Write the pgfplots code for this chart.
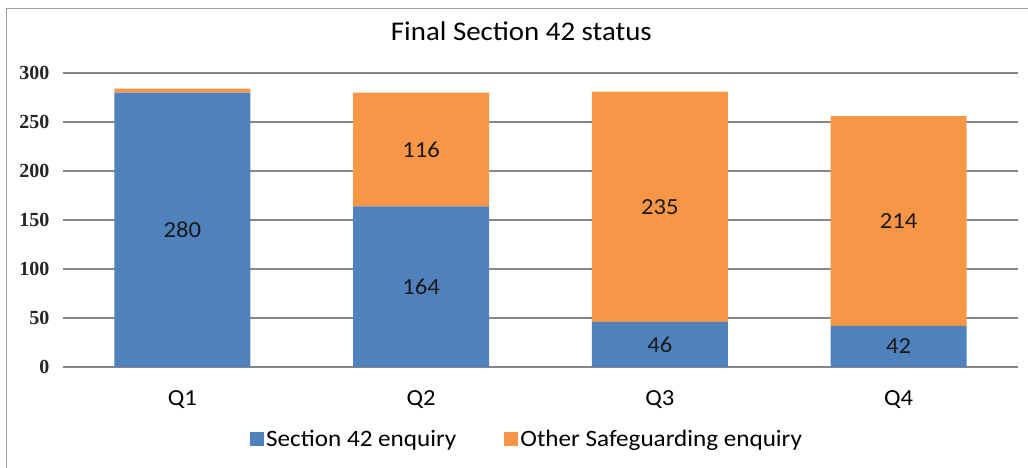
\documentclass[border=0pt]{standalone}
\usepackage{pgfplots}
\pgfplotsset{compat=1.18}
\usepackage{fontspec}
\setmainfont[FakeStretch=1.07]{Carlito}
\newfontfamily\tickfont{Liberation Serif}
\definecolor{sblue}{HTML}{4F81BD}
\definecolor{sorange}{HTML}{F79646}
\definecolor{gridc}{HTML}{868686}
\definecolor{framec}{HTML}{A0A0A0}
\pgfplotsset{
  common/.style={
    scale only axis, width=955pt, height=294pt,
    xmin=-0.5, xmax=3.5, ymin=0, ymax=300,
  }
}
\begin{document}
\begin{tikzpicture}[x=1pt,y=1pt]
\path[use as bounding box] (-63,-100) rectangle (965,367);
\draw[framec, line width=1pt] (-56,-101) -- (-56,359) -- (966,359);
\begin{axis}[
  common,
  ybar stacked, bar width=136pt,
  xtick={0,1,2,3}, xticklabels={Q1,Q2,Q3,Q4},
  ytick={0,50,...,300},
  ymajorgrids, grid style={gridc, line width=1.2pt},
  axis line style={draw=none},
  major tick length=0pt,
  xticklabel style={font=\fontsize{23}{27}\selectfont, yshift=-20pt},
  yticklabel style={font=\fontsize{20}{23}\selectfont\tickfont\bfseries, text=black!85, xshift=-10pt},
  /pgf/number format/assume math mode=true,
  title={Final Section 42 status},
  title style={font=\fontsize{27}{32}\selectfont, at={(0.48,1)}, anchor=center, yshift=36pt},
  legend columns=2,
  legend style={at={(0.486,-0.245)}, anchor=center, draw=none, fill=none,
    font=\fontsize{23.5}{27}\selectfont,
    /tikz/every even column/.append style={column sep=46pt}},
  legend image code/.code={\fill[#1] (-3pt,-7pt) rectangle (11pt,7pt);},
]
\addplot[fill=sblue, draw=none] coordinates {(0,280) (1,164) (2,46) (3,42)};
\addlegendentry{Section 42 enquiry}
\addplot[fill=sorange, draw=none] coordinates {(0,4) (1,116) (2,235) (3,214)};
\addlegendentry{Other Safeguarding enquiry}
\end{axis}
\begin{axis}[
  common, hide axis,
]
\addplot[only marks, mark=none, point meta=explicit symbolic, nodes near coords,
  every node near coord/.append style={font=\fontsize{23}{27}\selectfont, text=black!90, anchor=center}]
  coordinates {(0,140) [280] (1,82) [164] (2,23) [46] (3,21) [42]
               (1,222) [116] (2,163.5) [235] (3,149) [214]};
\end{axis}
\end{tikzpicture}
\end{document}
